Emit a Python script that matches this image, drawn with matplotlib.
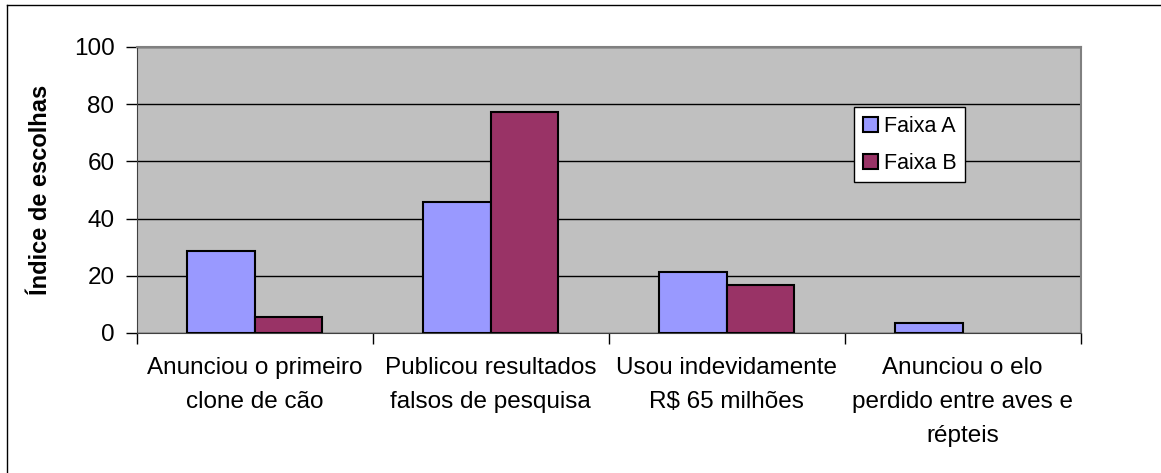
import matplotlib
matplotlib.use("Agg")
import matplotlib.pyplot as plt
import numpy as np
from matplotlib.lines import Line2D

plt.rcParams["font.family"] = ["Liberation Sans", "DejaVu Sans"]

categories = [
    "Anunciou o primeiro\nclone de cão",
    "Publicou resultados\nfalsos de pesquisa",
    "Usou indevidamente\nR$ 65 milhões",
    "Anunciou o elo\nperdido entre aves e\nrépteis",
]
faixa_a = [28.8, 45.9, 21.4, 3.4]
faixa_b = [5.7, 77.4, 16.8, 0]
series_names = ["Faixa A", "Faixa B"]
colors = ["#9999FF", "#993366"]

fig = plt.figure(figsize=(11.61, 4.73), dpi=100)
ax = fig.add_axes([0.1177, 0.296, 0.813, 0.6047])

x = np.arange(len(categories))
w = 1 / 3.5  # Excel gap width 150%
for k, (vals, off) in enumerate([(faixa_a, -w / 2), (faixa_b, w / 2)]):
    # zero-height bars are not drawn in the original
    edges = ["black" if v > 0 else "none" for v in vals]
    ax.bar(x + off, vals, w, color=colors[k], edgecolor=edges,
           linewidth=1.5, label=series_names[k], zorder=3)

ax.set_facecolor("#C0C0C0")
ax.set_xlim(-0.5, len(categories) - 0.5)
ax.set_ylim(0, 100)
ax.set_yticks(range(0, 101, 20))
ax.yaxis.grid(True, color="black", linewidth=1, zorder=1)
ax.set_axisbelow(True)

# category labels at centres, tick marks at boundaries
ax.set_xticks(x)
ax.set_xticklabels(categories, fontsize=17.5, linespacing=1.72)
ax.tick_params(axis="x", length=0, pad=17)
ax.set_xticks(np.arange(-0.5, len(categories), 1), minor=True)
ax.tick_params(axis="x", which="minor", length=8, width=1, color="black")
ax.tick_params(axis="y", labelsize=17.5, length=8, width=1, pad=8)

for side in ["top", "right"]:
    ax.spines[side].set_color("#808080")
    ax.spines[side].set_linewidth(1.5)
ax.spines["left"].set_color("#404040")
ax.spines["bottom"].set_color("#404040")

ax.set_ylabel("Índice de escolhas", fontsize=17, fontweight="bold")
ax.yaxis.set_label_coords(-0.09, 0.5)

leg = ax.legend(loc="upper left", bbox_to_anchor=(0.760, 0.790), fontsize=15.5,
                frameon=True, fancybox=False, framealpha=1, edgecolor="black",
                handlelength=0.7, handleheight=0.7, handletextpad=0.3,
                labelspacing=0.75, borderpad=0.4, borderaxespad=0)
leg.get_frame().set_linewidth(1)

# chart border (left and top only visible)
fig.add_artist(Line2D([7 / 1161, 7 / 1161], [0, 1 - 5 / 473],
                      transform=fig.transFigure, color="black", linewidth=1))
fig.add_artist(Line2D([7 / 1161, 1], [1 - 5 / 473, 1 - 5 / 473],
                      transform=fig.transFigure, color="black", linewidth=1))

fig.savefig("out.png", dpi=100)
